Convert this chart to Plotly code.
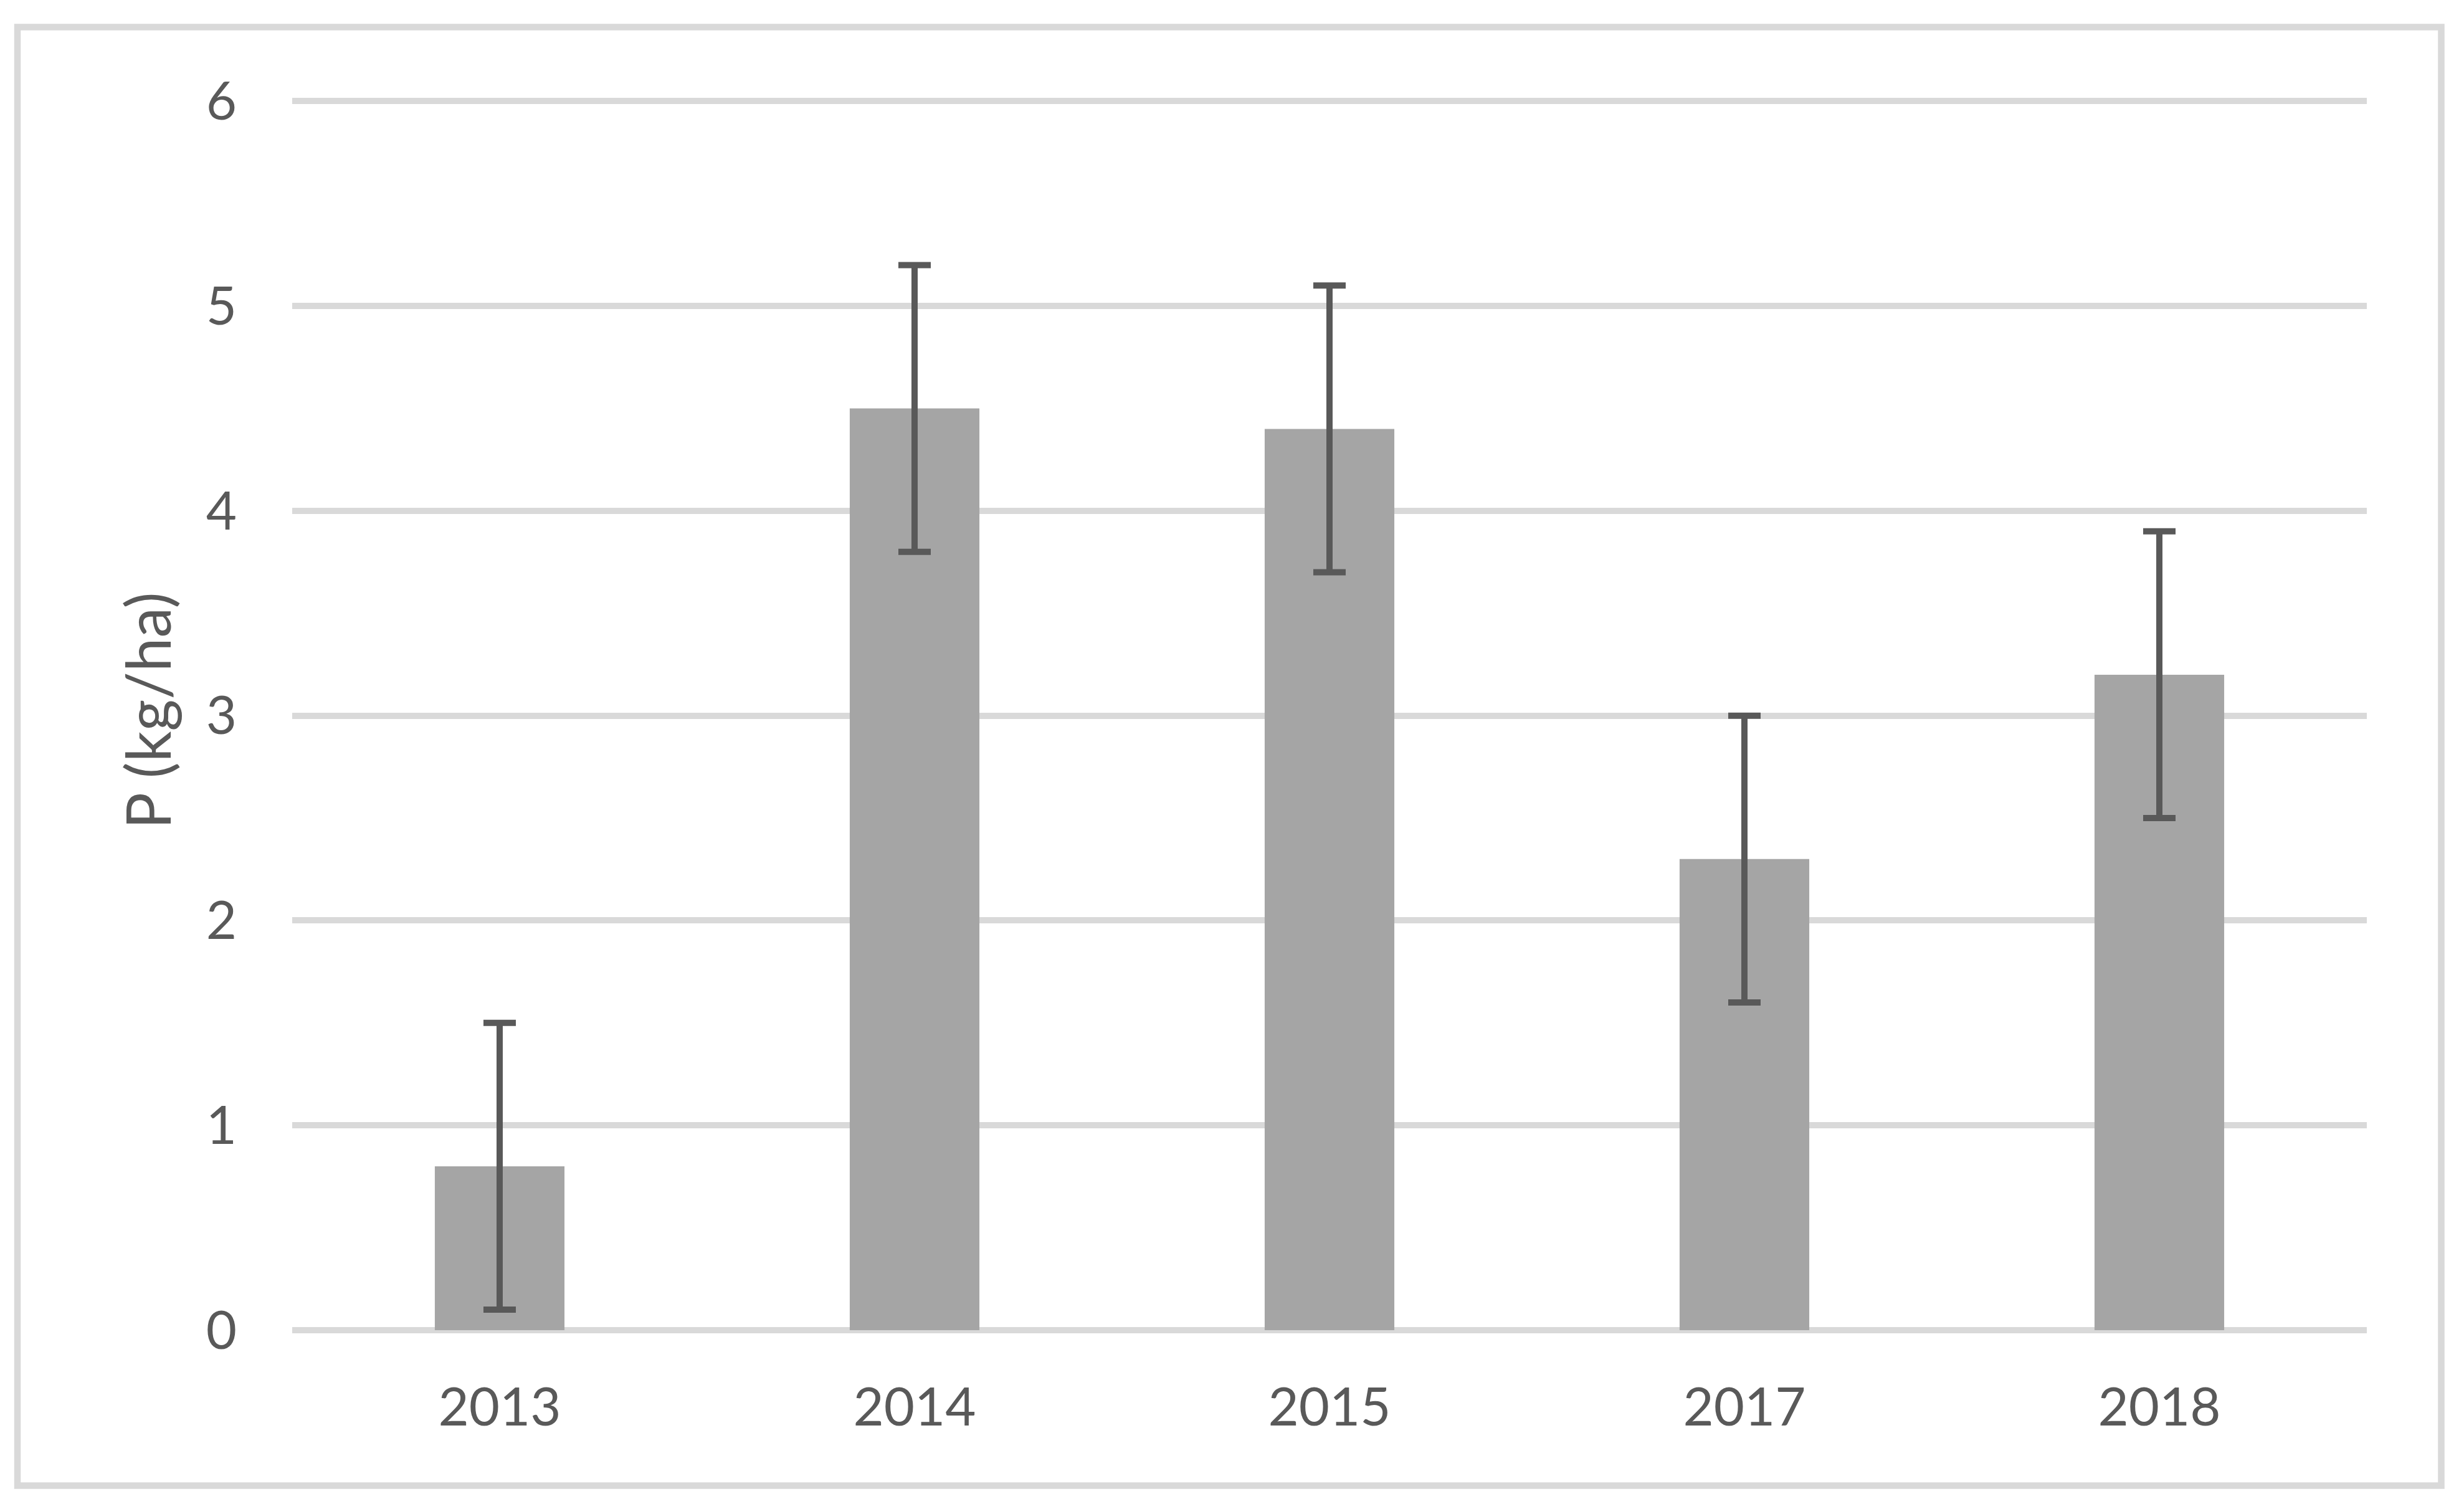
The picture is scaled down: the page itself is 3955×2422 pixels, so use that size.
import plotly.graph_objects as go

# ---- data ----
years = ["2013", "2014", "2015", "2017", "2018"]
p_values = [0.8, 4.5, 4.4, 2.3, 3.2]
p_errors = [0.7, 0.7, 0.7, 0.7, 0.7]
y_ticks = [0, 1, 2, 3, 4, 5, 6]
y_max = 6.05  # small headroom so the top gridline (6) is drawn

# ---- layout geometry (pixels) ----
W, H = 3955, 2422
ZERO_Y, SIX_Y = 2135, 162          # pixel rows of value 0 and value 6
UNIT = (ZERO_Y - SIX_Y) / 6.0
ML, MR, MB = 469, 156, H - ZERO_Y
MT = ZERO_Y - UNIT * y_max
PW, PH = W - ML - MR, H - MT - MB

TEXT = "#595959"
GRID = "#d9d9d9"
FONT = "Lato, 'Open Sans', sans-serif"

fig = go.Figure()
fig.add_trace(go.Bar(
    x=years, y=p_values,
    marker=dict(color="#a5a5a5", line=dict(width=0)),
    error_y=dict(type="data", array=p_errors, visible=True,
                 color=TEXT, thickness=10, width=26),
    showlegend=False,
))

# outer chart frame (pixel positions converted to paper coords)
def px_x(px):
    return (px - ML) / PW

def px_y(py):
    return (H - MB - py) / PH

fig.add_shape(type="rect", xref="paper", yref="paper",
              x0=px_x(28), x1=px_x(3918.5), y0=px_y(2384.5), y1=px_y(43),
              line=dict(color=GRID, width=10.5), fillcolor="rgba(0,0,0,0)",
              layer="below")

fig.update_layout(
    width=W, height=H,
    margin=dict(l=ML, r=MR, t=MT, b=MB, autoexpand=False),
    paper_bgcolor="white", plot_bgcolor="white",
    bargap=0.6875,
    font=dict(family=FONT, color=TEXT, size=85),
    xaxis=dict(
        type="category", showgrid=False, showline=False, zeroline=False,
        ticks="", tickfont=dict(size=85, color=TEXT, family=FONT),
        ticklabelstandoff=67, automargin=False,
    ),
    yaxis=dict(
        range=[0, y_max], tickvals=y_ticks, ticktext=[str(v) for v in y_ticks],
        showgrid=True, gridcolor=GRID, gridwidth=10,
        zeroline=True, zerolinecolor=GRID, zerolinewidth=10,
        showline=False, ticks="",
        tickfont=dict(size=85, color=TEXT, family=FONT),
        ticklabelstandoff=88, automargin=False,
        title=dict(text="P (kg/ha)", font=dict(size=98, color=TEXT, family=FONT),
                   standoff=23),
    ),
)

fig.write_html("out.html", config={"displayModeBar": False},
               post_script="document.body.style.margin='0';")
